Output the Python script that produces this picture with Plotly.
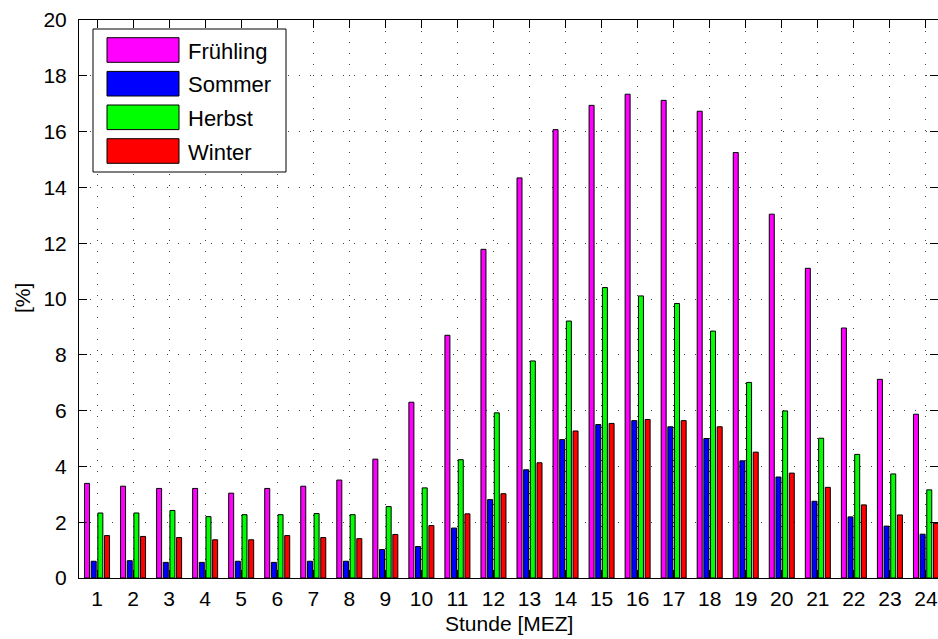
import plotly.graph_objects as go

# Hourly share per season, hours 1..24 (MEZ)
hours = list(range(1, 25))
fruehling = [3.39, 3.29, 3.21, 3.21, 3.04, 3.21, 3.29, 3.51, 4.26, 6.30, 8.70, 11.78,
             14.34, 16.07, 16.94, 17.34, 17.12, 16.73, 15.25, 13.04, 11.10, 8.96, 7.12, 5.87]
sommer = [0.60, 0.62, 0.56, 0.56, 0.60, 0.56, 0.60, 0.60, 1.02, 1.13, 1.79, 2.81,
          3.88, 4.96, 5.50, 5.64, 5.42, 5.00, 4.20, 3.62, 2.75, 2.19, 1.86, 1.57]
herbst = [2.33, 2.33, 2.42, 2.20, 2.27, 2.27, 2.31, 2.27, 2.56, 3.23, 4.24, 5.92,
          7.78, 9.21, 10.41, 10.11, 9.84, 8.85, 7.01, 5.99, 5.01, 4.43, 3.73, 3.16]
winter = [1.52, 1.49, 1.45, 1.37, 1.37, 1.52, 1.45, 1.41, 1.56, 1.88, 2.30, 3.02,
          4.13, 5.27, 5.54, 5.68, 5.64, 5.42, 4.51, 3.76, 3.25, 2.62, 2.26, 1.96]

series_names = ["Frühling", "Sommer", "Herbst", "Winter"]
series_values = [fruehling, sommer, herbst, winter]
series_colors = ["#FF00FF", "#0000FF", "#00FF00", "#FF0000"]
y_ticks = list(range(0, 21, 2))

FONT = "Liberation Sans, Arial, Helvetica, sans-serif"
W, H = 938, 639
ML, MR, MT, MB = 79, 0, 20, 61
PW, PH = W - ML - MR, H - MT - MB
UNIT = 36.04  # pixels per hour slot

fig = go.Figure()
for name, vals, col in zip(series_names, series_values, series_colors):
    fig.add_trace(go.Bar(
        x=hours, y=vals, name=name,
        marker=dict(color=col, line=dict(color="black", width=1)),
        showlegend=False,
    ))


def px_x(px):
    return (px - ML) / PW


def px_y(py):
    return (H - MB - py) / PH


# Boxed legend drawn on top of the axes
shapes = [dict(type="rect", xref="paper", yref="paper",
               x0=px_x(93), x1=px_x(286), y0=px_y(172), y1=px_y(29),
               fillcolor="white", line=dict(color="black", width=1), layer="above")]
annotations = []
row_centers = [50, 83.7, 117.3, 151]
for name, col, yc in zip(series_names, series_colors, row_centers):
    shapes.append(dict(type="rect", xref="paper", yref="paper",
                       x0=px_x(107), x1=px_x(179), y0=px_y(yc + 12.3), y1=px_y(yc - 12.3),
                       fillcolor=col, line=dict(color="black", width=1), layer="above"))
    annotations.append(dict(xref="paper", yref="paper", x=px_x(186), y=px_y(yc + 1),
                            text=name, showarrow=False, xanchor="left", yanchor="middle",
                            font=dict(family=FONT, size=22, color="black")))

# Axis titles
annotations.append(dict(xref="paper", yref="paper", x=px_x(509), y=px_y(623),
                        text="Stunde [MEZ]", showarrow=False, xanchor="center", yanchor="middle",
                        font=dict(family=FONT, size=21, color="black")))
annotations.append(dict(xref="paper", yref="paper", x=px_x(22), y=px_y(298),
                        text="[%]", showarrow=False, xanchor="center", yanchor="middle",
                        textangle=-90, font=dict(family=FONT, size=21, color="black")))

grid_style = dict(showgrid=True, gridcolor="#444444", gridwidth=1, griddash="1px,10px")

fig.update_layout(
    width=W, height=H,
    margin=dict(l=ML, r=MR, t=MT, b=MB, pad=0),
    paper_bgcolor="white", plot_bgcolor="white",
    barmode="group", bargap=0.26, bargroupgap=0.25,
    font=dict(family=FONT, size=21, color="black"),
    shapes=shapes, annotations=annotations,
    xaxis=dict(
        range=[0.5, 0.5 + PW / UNIT],
        tickmode="array", tickvals=hours, ticktext=[str(h) for h in hours],
        ticks="inside", ticklen=8, tickcolor="black", tickwidth=1,
        showline=True, linecolor="black", linewidth=1, mirror="ticks",
        zeroline=False, ticklabelstandoff=2,
        tickfont=dict(family=FONT, size=21, color="black"),
        **grid_style,
    ),
    yaxis=dict(
        range=[0, 20],
        tickmode="array", tickvals=y_ticks, ticktext=[str(v) for v in y_ticks],
        ticks="inside", ticklen=8, tickcolor="black", tickwidth=1,
        showline=True, linecolor="black", linewidth=1, mirror="ticks",
        zeroline=False, ticklabelstandoff=7,
        tickfont=dict(family=FONT, size=21, color="black"),
        **grid_style,
    ),
)

fig.write_html("out.html")
